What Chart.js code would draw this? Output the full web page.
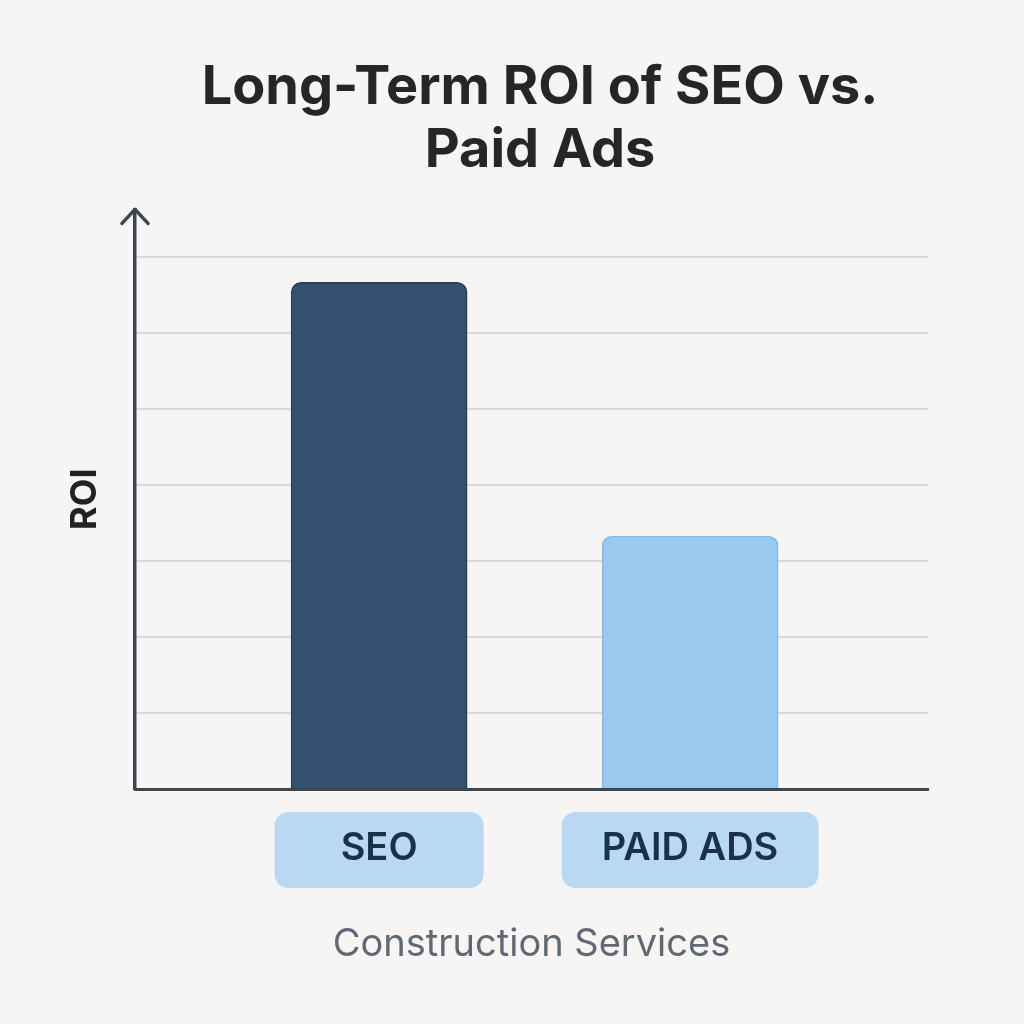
<!DOCTYPE html>
<html>
<head>
<meta charset="utf-8">
<script src="https://cdn.jsdelivr.net/npm/chart.js@4.4.1/dist/chart.umd.min.js"></script>
<style>
  html, body { margin: 0; padding: 0; background: #f6f5f3; }
  canvas { display: block; }
</style>
</head>
<body>
<canvas id="c" width="1024" height="1024"></canvas>
<script>
// ---- data ----
const categories = ['SEO', 'PAID ADS'];
const roiValues = [6.67, 3.33];
const chartTitle = ['Long-Term ROI of SEO vs.', 'Paid Ads'];
const yAxisTitle = 'ROI';
const xAxisTitle = 'Construction Services';
const barColors = ['#34506e', '#99c9ef'];
const barBorders = ['#233d5a', '#7db9ea'];

const positions = categories.map((_, i) => i);

const bgPlugin = {
  id: 'bg',
  beforeDraw(chart) {
    const ctx = chart.ctx;
    ctx.save();
    ctx.fillStyle = '#f6f5f3';
    ctx.fillRect(0, 0, chart.width, chart.height);
    // label pills behind category tick labels
    const xs = chart.scales.x;
    const widths = [209, 257];
    positions.forEach((p, i) => {
      const cx = xs.getPixelForValue(p);
      const w = widths[i];
      const top = chart.chartArea.bottom + 23, h = 76;
      ctx.fillStyle = '#b9d8f3';
      ctx.beginPath();
      ctx.roundRect(cx - w / 2, top, w, h, 14);
      ctx.fill();
    });
    ctx.restore();
  },
  afterLayout(chart) {
    chart.titleBlock.left = 56;
    chart.titleBlock.right = 1024;
  },
  afterDraw(chart) {
    const ctx = chart.ctx;
    const x = chart.chartArea.left;
    const top = chart.chartArea.top;
    ctx.save();
    ctx.strokeStyle = '#3b4650';
    ctx.lineWidth = 3.5;
    ctx.lineCap = 'round';
    ctx.lineJoin = 'round';
    ctx.beginPath();
    ctx.moveTo(x - 13, top + 14);
    ctx.lineTo(x, top);
    ctx.lineTo(x + 13, top + 14);
    ctx.stroke();
    ctx.restore();
  }
};

new Chart(document.getElementById('c'), {
  type: 'bar',
  data: {
    datasets: [{
      data: positions.map((p, i) => ({ x: p, y: roiValues[i] })),
      backgroundColor: barColors,
      borderColor: barBorders,
      borderWidth: 1.5,
      borderSkipped: 'bottom',
      borderRadius: { topLeft: 10, topRight: 10, bottomLeft: 0, bottomRight: 0 },
      barThickness: 176
    }]
  },
  options: {
    responsive: false,
    animation: false,
    devicePixelRatio: 1,
    layout: { padding: { left: 0, right: 96, top: 0, bottom: 0 } },
    plugins: {
      legend: { display: false },
      tooltip: { enabled: false },
      title: {
        display: true,
        text: chartTitle,
        color: '#262626',
        font: { family: 'Inter', size: 54, weight: '700', lineHeight: 1.17 },
        padding: { top: 56, bottom: 27 }
      }
    },
    scales: {
      x: {
        type: 'linear',
        offset: false,
        min: -0.785,
        max: 1.765,
        grid: { display: false, drawTicks: false },
        border: { display: true, color: '#3b4650', width: 3 },
        afterBuildTicks(s) { s.ticks = positions.map(v => ({ value: v })); },
        afterFit(s) { s.height = 235; },
        ticks: {
          callback: (v) => categories[v],
          color: '#1b3049',
          font: { family: 'Inter', size: 38, weight: '600' },
          padding: 37,
          maxRotation: 0,
          autoSkip: false
        },
        title: {
          display: true,
          text: xAxisTitle,
          color: '#5f6873',
          font: { family: 'Inter', size: 38, weight: '400', lineHeight: 1.2 },
          padding: { top: 0, bottom: 57 }
        }
      },
      y: {
        min: 0,
        max: 7.63,
        afterFit(s) { s.width = 135; },
        ticks: { display: false, stepSize: 1 },
        grid: {
          drawTicks: false,
          lineWidth: 2,
          color: (c) => (c.tick && Number.isInteger(c.tick.value) && c.tick.value > 0) ? '#d9d9d9' : 'rgba(0,0,0,0)'
        },
        border: { display: true, color: '#3b4650', width: 3.5 },
        title: {
          display: true,
          text: yAxisTitle,
          color: '#222222',
          font: { family: 'Inter', size: 36, weight: '700', lineHeight: 1.2 },
          padding: { top: 64, bottom: 0 }
        }
      }
    }
  },
  plugins: [bgPlugin]
});
</script>
</body>
</html>
